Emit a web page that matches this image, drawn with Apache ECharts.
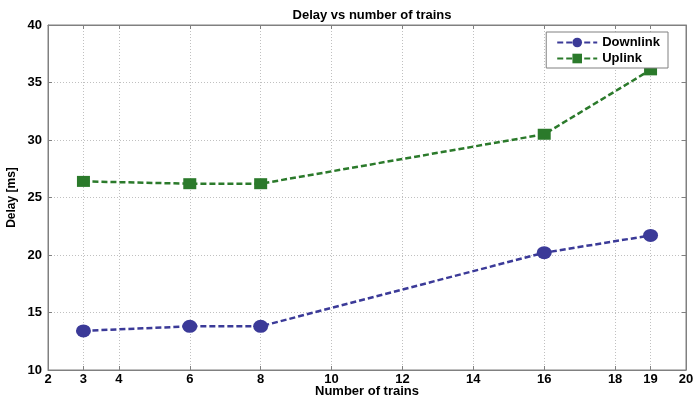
<!DOCTYPE html>
<html><head><meta charset="utf-8">
<script src="https://cdn.jsdelivr.net/npm/echarts@6/dist/echarts.min.js"></script>
<style>html,body{margin:0;padding:0;background:#fff}#c{width:697px;height:400px}</style>
</head><body><div id="c"></div>
<script>
var xTicks = [2, 3, 4, 6, 8, 10, 12, 14, 16, 18, 19, 20];
var trains = [3, 6, 8, 16, 19];
var downlink = [13.4, 13.8, 13.8, 20.2, 21.7];
var uplink = [26.4, 26.2, 26.2, 30.5, 36.1];

var chart = echarts.init(document.getElementById('c'));
var F = 'Liberation Sans, Arial, sans-serif';
function pairs(xs, ys){ return xs.map(function(x,i){return [x, ys[i]];}); }
var axisLineStyle = {color:'#808080', width:1};
chart.setOption({
  animation:false,
  title:{text:'Delay vs number of trains', left:367, top:4, textAlign:'center',
    textStyle:{fontFamily:F, fontSize:13, fontWeight:'bold', color:'#000'}},
  grid:{left:48, right:11, top:25, bottom:30, show:true, borderColor:'#808080', borderWidth:1,
    outerBoundsMode:'none', containLabel:false},
  legend:{right:29, top:32, orient:'vertical', itemWidth:40, itemHeight:12, itemGap:3,
    backgroundColor:'#fff', borderColor:'#808080', borderWidth:1, padding:[4,8,3,10],
    textStyle:{fontFamily:F, fontSize:13, fontWeight:'bold', color:'#000'},
    data:['Downlink','Uplink']},
  xAxis:[{type:'value', min:2, max:20, position:'bottom',
    name:'Number of trains', nameLocation:'middle', nameGap:15, nameMoveOverlap:false,
    nameTextStyle:{fontFamily:F, fontSize:13, fontWeight:'bold', color:'#000'},
    axisLine:{show:true, lineStyle:axisLineStyle},
    axisTick:{show:true, inside:true, length:4, customValues:xTicks, lineStyle:axisLineStyle},
    axisLabel:{customValues:xTicks, fontFamily:F, fontSize:13, fontWeight:'bold', color:'#000', margin:3},
    splitLine:{show:true, lineStyle:{color:'#c0c0c0', type:[1,2], width:1}}},
   {type:'value', min:2, max:20, position:'top',
    axisLine:{show:true, lineStyle:axisLineStyle},
    axisTick:{show:true, inside:true, length:4, customValues:xTicks, lineStyle:axisLineStyle},
    axisLabel:{show:false}, splitLine:{show:false}}],
  yAxis:[{type:'value', min:10, max:40, interval:5, position:'left',
    name:'Delay [ms]', nameLocation:'middle', nameGap:30, nameMoveOverlap:false,
    nameTextStyle:{fontFamily:F, fontSize:12, fontWeight:'bold', color:'#000'},
    axisLine:{show:true, lineStyle:axisLineStyle},
    axisTick:{show:true, inside:true, length:4, lineStyle:axisLineStyle},
    axisLabel:{fontFamily:F, fontSize:13, fontWeight:'bold', color:'#000', margin:6},
    splitLine:{show:true, lineStyle:{color:'#c0c0c0', type:[1,2], width:1}}},
   {type:'value', min:10, max:40, interval:5, position:'right',
    axisLine:{show:true, lineStyle:axisLineStyle},
    axisTick:{show:true, inside:true, length:4, lineStyle:axisLineStyle},
    axisLabel:{show:false}, splitLine:{show:false}}],
  series:[
    {name:'Downlink', type:'line', data:pairs(trains, downlink), symbol:'circle', symbolSize:[15,13],
      lineStyle:{color:'#3b3a98', width:2.5, type:[6,3]}, itemStyle:{color:'#3b3a98'}},
    {name:'Uplink', type:'line', data:pairs(trains, uplink), symbol:'rect', symbolSize:[13,11],
      lineStyle:{color:'#2b7a2b', width:2.5, type:[6,3]}, itemStyle:{color:'#2b7a2b'}}
  ]
});
</script></body></html>
